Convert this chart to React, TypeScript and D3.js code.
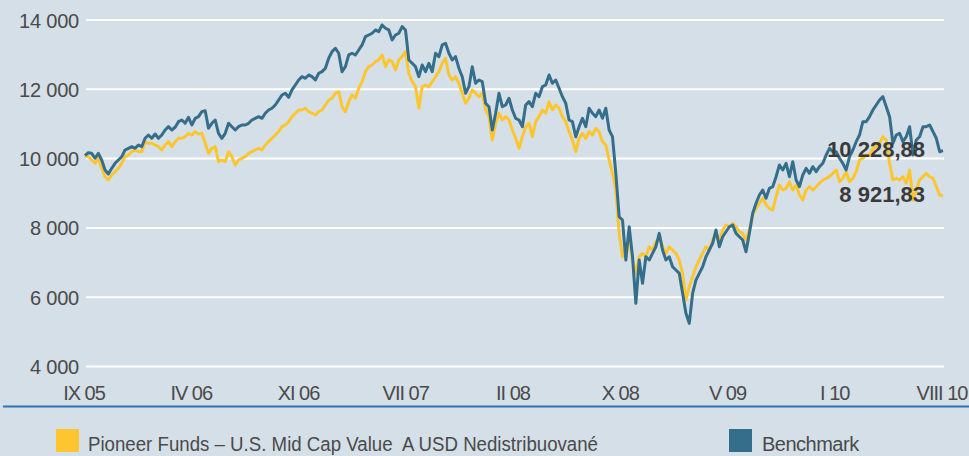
import React from "react";
import * as d3 from "d3";

const yTicks = [4000, 6000, 8000, 10000, 12000, 14000];
const xLabels = ["IX 05", "IV 06", "XI 06", "VII 07", "II 08", "X 08", "V 09", "I 10", "VIII 10"];

const fundName = "Pioneer Funds – U.S. Mid Cap Value\u00A0 A USD Nedistribuované";
const benchName = "Benchmark";

const fundValues = [
  10084,10055,9960,9864,10009,9720,9477,9382,9527,9622,9720,9864,10055,10104,10199,10248,10199,10199,10488,10442,10442,10393,10344,10248,10393,10488,10344,10488,10586,10586,10632,10730,10681,10777,10710,10730,10442,10153,10297,10344,9911,9960,9911,10199,10055,9815,9960,10009,10055,10153,10199,10248,10297,10248,10393,10488,10586,10681,10777,10921,10970,11065,11210,11308,11403,11403,11452,11354,
  11308,11259,11354,11403,11547,11692,11741,11885,11931,11498,11354,11643,11836,11741,12030,12220,12509,12653,12702,12798,12847,12991,12653,12847,12798,12558,12847,12942,13086,12463,12220,12076,11452,12076,12125,12076,12220,12364,12509,12751,12896,12414,12269,12364,12174,11885,11597,11741,11981,11885,11787,11885,11403,11210,10537,11019,11308,11114,11210,11114,10826,10586,10297,10632,10921,11019,
  10632,11065,11210,11403,11308,11643,11403,11547,11452,11210,11065,10777,10537,10199,10586,10730,10586,10777,10681,10875,10777,10488,10393,9960,9576,9093,7843,7168,7457,7650,7073,6689,7168,7266,7168,7457,7361,7601,7745,7457,7266,7457,7361,7266,7073,6689,5918,6302,6590,6879,7073,7266,7457,7361,7650,7843,7650,
  7939,8083,8034,8132,8034,7890,7843,7650,7939,8372,8565,8710,8854,8660,8565,8516,8900,9238,9093,9143,9333,9093,9238,8949,8805,9093,9189,9093,9189,9287,9382,9431,9477,9576,9671,9333,9431,9622,9333,9431,9622,9960,10009,10104,10104,10297,10344,10442,10632,10537,9864,9382,9431,9382,9477,9287,9671,8805,9093,9382,9477,9576,9477,9431,9189,8949,8921.83,
];

const benchValues = [
  10084,10170,10153,10009,10153,9960,9671,9555,9720,9864,9960,10055,10248,10297,10344,10297,10393,10344,10586,10681,10586,10710,10586,10681,10826,10921,10826,10904,11065,11114,11019,11192,10970,11163,11210,11354,11383,10875,11019,11114,10730,10586,10730,11019,10921,10826,10921,10970,10970,11019,11114,11163,11210,11163,11308,11403,11452,11547,11692,11836,11885,11770,11981,12125,12269,12364,12318,12414,
  12364,12269,12463,12509,12607,12896,13086,13184,13040,12509,12653,12991,13040,12991,13135,13280,13519,13568,13617,13713,13664,13857,13762,13713,13424,13568,13617,13808,13713,12847,12751,12653,12364,12702,12509,12751,12509,13040,12942,13280,13329,13040,12847,12942,12607,12364,11885,12076,12653,12174,12269,12220,11597,11498,10826,11308,11885,11498,11547,11741,11403,11163,11114,10921,11547,11643,
  11498,11885,11787,12076,12125,12414,12174,12269,12030,11787,11597,11114,11065,10632,10921,11163,10921,11452,11308,11210,11403,11163,11452,10826,10632,9576,8323,8227,7073,8034,7168,5823,7073,6400,7168,7073,7266,7457,7843,7361,7073,7168,6879,6784,6689,6111,5534,5245,6111,6495,6689,6879,7168,7361,7555,7939,7457,
  7745,7890,8034,8083,7843,7745,7650,7312,7843,8421,8710,8949,9093,8854,9143,9189,9477,9815,9671,9864,9477,9911,9382,9189,9527,9720,9576,9766,9622,9766,9864,10104,10297,10199,10199,10009,9864,9671,10055,10248,10488,10681,11065,11065,11210,11403,11547,11692,11787,11498,11210,10442,10681,10730,10488,10632,10921,10104,10537,10632,10921,10921,10970,10777,10586,10199,10228.88,
];

const W = 969;
const H = 456;
const BG = "#d5dfe7";
const FUND_COLOR = "#fec62e";
const BENCH_COLOR = "#356e8a";
const TEXT_COLOR = "#4a4a4a";
const FONT = "'Liberation Sans', Arial, sans-serif";

const fmt = (v: number) => {
  const [i, d] = v.toFixed(2).split(".");
  const withSpace = i.replace(/\B(?=(\d{3})+(?!\d))/g, " ");
  return `${withSpace},${d}`;
};
const fmtTick = (v: number) => String(v).replace(/\B(?=(\d{3})+(?!\d))/g, " ");

export default function App() {
  const plotLeft = 85;
  const plotRight = 943;
  const y = d3.scaleLinear().domain([4000, 14000]).range([366.5, 20]);
  const xFrac = d3.scaleLinear().domain([0, 1]).range([84, 942]);
  const xFund = d3.scaleLinear().domain([0, fundValues.length - 1]).range([plotLeft, plotRight]);
  const xBench = d3.scaleLinear().domain([0, benchValues.length - 1]).range([plotLeft, plotRight]);
  const labelX = d3.scalePoint<string>().domain(xLabels).range([xFrac(0), xFrac(1)]);

  const fundLine = d3.line<number>().x((_, i) => xFund(i)).y((d) => y(d));
  const benchLine = d3.line<number>().x((_, i) => xBench(i)).y((d) => y(d));

  const lastFund = fundValues[fundValues.length - 1];
  const lastBench = benchValues[benchValues.length - 1];

  return (
    <div style={{ position: "absolute", left: 0, top: 0 }}>
      <svg width={W} height={H} style={{ display: "block" }} fontFamily={FONT}>
        <rect x={0} y={0} width={W} height={H} fill={BG} />
        {yTicks.map((t) => (
          <g key={t}>
            <line x1={plotLeft + 1} x2={plotRight + 1} y1={y(t)} y2={y(t)} stroke="#ffffff" strokeWidth={2} />
            <text x={79} y={y(t) + 7.5} textAnchor="end" fontSize={20} fill={TEXT_COLOR} letterSpacing={-0.2}>
              {fmtTick(t)}
            </text>
          </g>
        ))}
        <path d={fundLine(fundValues) || ""} fill="none" stroke={FUND_COLOR} strokeWidth={3} strokeLinejoin="round" />
        <path d={benchLine(benchValues) || ""} fill="none" stroke={BENCH_COLOR} strokeWidth={3} strokeLinejoin="round" />
        {xLabels.map((l) => (
          <text key={l} x={labelX(l)} y={400} textAnchor="middle" fontSize={20} fill={TEXT_COLOR} letterSpacing={-1}>
            {l}
          </text>
        ))}
        <line x1={3} x2={W} y1={406.5} y2={406.5} stroke="#2a72b5" strokeWidth={2} />
        <text x={plotRight - 18} y={y(lastBench) + 6} textAnchor="end" fontSize={22} fontWeight="bold" fill="#3a3a3a">
          {fmt(lastBench)}
        </text>
        <text x={plotRight - 18} y={y(lastFund) + 6} textAnchor="end" fontSize={22} fontWeight="bold" fill="#3a3a3a">
          {fmt(lastFund)}
        </text>
        <rect x={56} y={429} width={23} height={23} fill={FUND_COLOR} />
        <text x={88} y={451} fontSize={20} fill={TEXT_COLOR} textLength={510} lengthAdjust="spacingAndGlyphs">
          {fundName}
        </text>
        <rect x={729} y={429} width={23} height={23} fill={BENCH_COLOR} />
        <text x={762} y={451} fontSize={20} fill={TEXT_COLOR} letterSpacing={-0.5}>
          {benchName}
        </text>
      </svg>
    </div>
  );
}
